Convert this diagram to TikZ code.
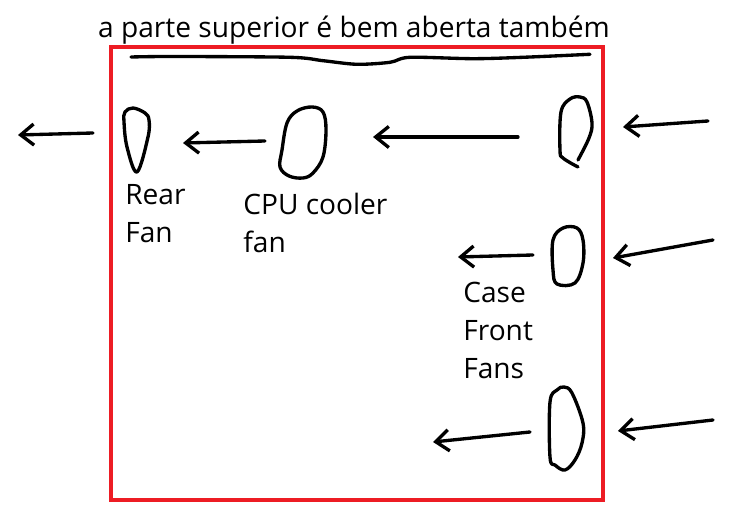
\documentclass[tikz,border=0pt]{standalone}
\usepackage{fontspec}
\setmainfont{Open Sans}
\usetikzlibrary{arrows.meta}
\definecolor{CaseRed}{RGB}{237,28,36}

\newcommand{\drawfan}[1]{ % Parameter: outline points of the fan
  \draw[pen] plot[smooth cycle,tension=0.6] coordinates {#1};
}

\tikzset{
  pen/.style={line width=1.9pt,line cap=round,line join=round},
  airflow/.style={pen,-{Straight Barb[length=7.5pt,width=12pt]}},
  note/.style={inner sep=0pt,align=left,font=\fontsize{16}{21.8}\selectfont}
}

\begin{document}
\begin{tikzpicture}[x=0.02cm,y=-0.02cm]
    \useasboundingbox (0,0) rectangle (755,523);
    % case
    \draw[CaseRed,line width=2.4pt] (111,47) rectangle (603,500);
    \node[anchor=base,inner sep=0pt,font=\fontsize{16}{19}\selectfont] (top) at (354,38)
      {a parte superior é bem aberta também};
    \draw[pen] plot[smooth,tension=0.5] coordinates {(131,57) (173,56.5) (290,57.3) (323,60.7)
      (357,64.3) (390,62.3) (410,57.3) (473,58.7) (523,57.3) (590,54.3)};
    % fans
    \draw[pen] plot[smooth cycle,tension=0.6] coordinates {(125,112) (133,108) (145,113) (149,120)
      (148,137) (137,172) (127,147) (124,122)};
    \drawfan{(282,150) (287,123) (297,111) (312,107) (323,112) (326,130) (323,157) (313,173) (303,178) (289,176) (280,167)}
    \draw[pen] plot[smooth,tension=0.6] coordinates {(578,167) (563,158) (560,150) (561,112) (570,99)
      (580,97) (587,102) (592,123) (589,138) (578,160)};
    \drawfan{(553,240) (563,228) (577,228) (583,240) (583,263) (575,283) (557,284) (553,270)}
    \drawfan{(550,402) (557,390) (564,387) (572,393) (583,423) (582,443) (575,460) (565,470) (555,465) (550,457)}
    % labels (anchored at the baseline of the last line)
    \node[note,anchor=base west] (rear) at (125,243) {Rear\\Fan};
    \node[note,anchor=base west] (cpu) at (243,253) {CPU cooler\\fan};
    \node[note,anchor=base west] (front) at (463,379) {Case\\Front\\Fans};
    % airflow
    \coordinate (outA) at (93,133);   \coordinate (outB) at (18,135);
    \coordinate (cpuA) at (265,141);  \coordinate (cpuB) at (183,143);
    \coordinate (inA) at (708,121);   \coordinate (inB) at (623,127);
    \coordinate (midA) at (518,137);  \coordinate (midB) at (373,137);
    \coordinate (inC) at (713,240);   \coordinate (inD) at (613,258);
    \coordinate (frA) at (533,255);   \coordinate (frB) at (458,257);
    \coordinate (inE) at (713,420);   \coordinate (inF) at (618,431);
    \coordinate (frC) at (530,432);   \coordinate (frD) at (433,442);
    \draw[airflow] (outA) -- (outB);
    \draw[airflow] (cpuA) -- (cpuB);
    \draw[airflow] (inA) -- (inB);
    \draw[airflow] (midA) -- (midB);
    \draw[airflow] (inC) -- (inD);
    \draw[airflow] (frA) -- (frB);
    \draw[airflow] (inE) -- (inF);
    \draw[airflow] (frC) -- (frD);
  \end{tikzpicture}
\end{document}
